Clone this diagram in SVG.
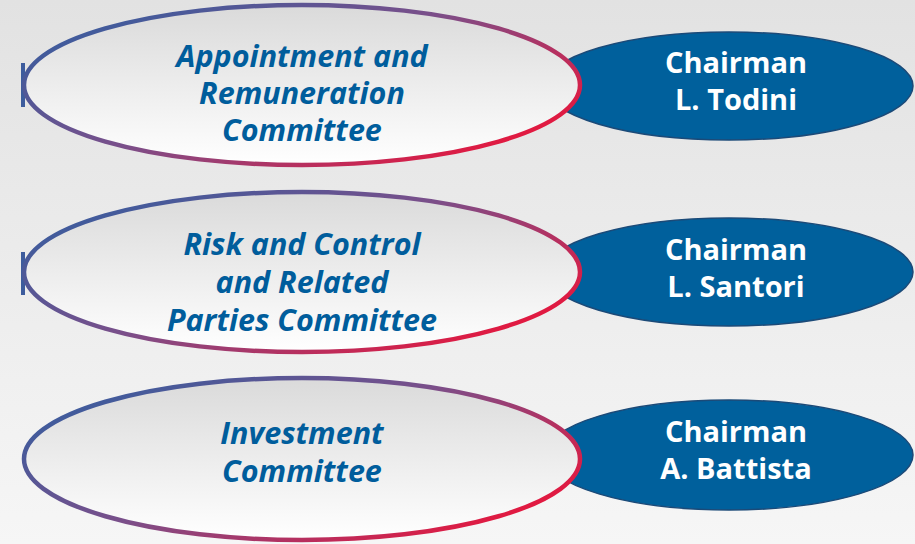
<svg xmlns="http://www.w3.org/2000/svg" width="915" height="544" viewBox="0 0 915 544">
  <defs>
    <linearGradient id="bg" x1="0" y1="0" x2="0" y2="1">
      <stop offset="0" stop-color="#e2e2e2"/>
      <stop offset="1" stop-color="#f6f6f6"/>
    </linearGradient>
    <linearGradient id="committeeFill" x1="0" y1="0" x2="0" y2="1">
      <stop offset="0" stop-color="#dadada"/>
      <stop offset="1" stop-color="#ffffff"/>
    </linearGradient>
    <linearGradient id="committeeRing" x1="0.05" y1="0.2" x2="0.95" y2="0.8">
      <stop offset="0" stop-color="#3d5c9d"/>
      <stop offset="0.45" stop-color="#7a4f8a"/>
      <stop offset="1" stop-color="#e8163c"/>
    </linearGradient>
    <style>
      .committee { fill: url(#committeeFill); stroke: url(#committeeRing); stroke-width: 4.5; }
      .chair { fill: #00609c; stroke: #1b4a78; stroke-width: 1.5; }
      .tick { fill: #3d5c9d; }
      .name { font-family: "Open Sans", "Liberation Sans", sans-serif; font-weight: bold; font-style: italic; font-size: 30.5px; fill: #005d9c; text-anchor: middle; }
      .chairText { font-family: "Open Sans", "Liberation Sans", sans-serif; font-weight: bold; font-size: 29px; fill: #ffffff; text-anchor: middle; }
    </style>
  </defs>

  <rect x="0" y="0" width="915" height="544" fill="url(#bg)"/>

  <g id="connectors"></g>

  <!-- Appointment and Remuneration Committee -->
  <g id="chair-todini">
    <ellipse class="chair" cx="729" cy="86" rx="184" ry="54"/>
    <text class="chairText" x="736" y="73">Chairman</text>
    <text class="chairText" x="736" y="110">L. Todini</text>
  </g>
  <g id="committee-appointment">
    <rect class="tick" x="21" y="63" width="4" height="44"/>
    <ellipse class="committee" cx="302" cy="85" rx="278" ry="80"/>
    <text class="name" x="302" y="67">Appointment and</text>
    <text class="name" x="302" y="104">Remuneration</text>
    <text class="name" x="302" y="141">Committee</text>
  </g>

  <!-- Risk and Control and Related Parties Committee -->
  <g id="chair-santori">
    <ellipse class="chair" cx="729" cy="272" rx="184" ry="54"/>
    <text class="chairText" x="736" y="260">Chairman</text>
    <text class="chairText" x="736" y="297">L. Santori</text>
  </g>
  <g id="committee-risk">
    <rect class="tick" x="21" y="252" width="4" height="43"/>
    <ellipse class="committee" cx="302" cy="272" rx="278" ry="80"/>
    <text class="name" x="302" y="255">Risk and Control</text>
    <text class="name" x="302" y="293">and Related</text>
    <text class="name" x="302" y="331">Parties Committee</text>
  </g>

  <!-- Investment Committee -->
  <g id="chair-battista">
    <ellipse class="chair" cx="729" cy="455" rx="184" ry="55"/>
    <text class="chairText" x="736" y="442">Chairman</text>
    <text class="chairText" x="736" y="479">A. Battista</text>
  </g>
  <g id="committee-investment">
    <ellipse class="committee" cx="302" cy="459" rx="278" ry="81"/>
    <text class="name" x="302" y="444">Investment</text>
    <text class="name" x="302" y="482">Committee</text>
  </g>
</svg>
